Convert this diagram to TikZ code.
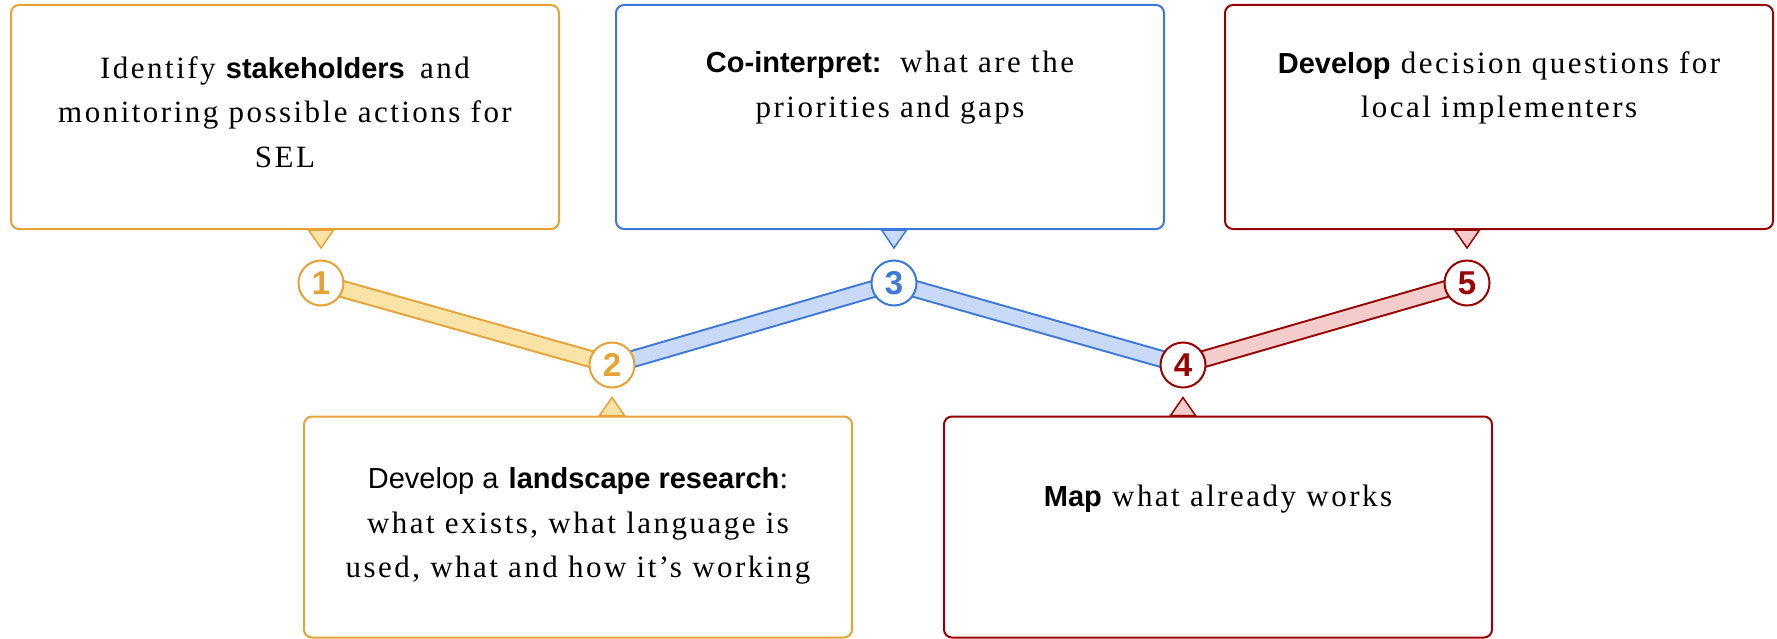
\documentclass[tikz,border=0pt]{standalone}
\usepackage{fontspec}
\setmainfont{Liberation Serif}[LetterSpace=8]
\newfontfamily\arial{Liberation Sans}
\usepackage{tikz}
\usetikzlibrary{positioning, calc, backgrounds}

\definecolor{orline}{HTML}{E6A237}
\definecolor{orfill}{HTML}{F9E3A7}
\definecolor{blline}{HTML}{3C78D8}
\definecolor{blfill}{HTML}{C9DAF8}
\definecolor{rdline}{HTML}{990000}
\definecolor{rdfill}{HTML}{F4CCCC}

\newcommand{\kw}[1]{{\arial\bfseries\fontsize{29}{44.5}\selectfont #1}}
\newcommand{\sans}[1]{{\arial\fontsize{29}{44.5}\selectfont #1}}

\begin{document}
\begin{tikzpicture}[x=1pt, y=-1pt,
    font=\fontsize{31}{44.5}\selectfont,
    box/.style={draw=#1, line width=2pt, rounded corners=8pt, fill=white, minimum width=548pt, inner sep=0pt},
    stepnum/.style={circle, draw=#1, line width=2pt, fill=white, text=#1, minimum size=45pt, inner sep=0pt, font=\arial\bfseries\fontsize{33}{33}\selectfont},
    band/.style 2 args={line width=2pt, draw=#1, double=#2, double distance=14pt},
    pointer/.style 2 args={draw=#1, fill=#2, line width=1.5pt},
    txt/.style={align=center, inner sep=0pt}]
    \useasboundingbox (0,0) rectangle (1777,639);

    % boxes
    \node[box=orline, minimum height=224pt] (b1) at (285,117) {};
    \node[box=blline, minimum height=224pt] (b3) at (890,117) {};
    \node[box=rdline, minimum height=224pt] (b5) at (1499,117) {};
    \node[box=orline, minimum height=221pt] (b2) at (578,527) {};
    \node[box=rdline, minimum height=221pt] (b4) at (1218,527) {};

    \node[txt, below=52pt of b1.north] (t1) {Identify \kw{stakeholders} \hspace{5pt}and\\monitoring possible actions for\\SEL};
    \node[txt, below=47pt of b3.north] (t3) {\kw{Co-interpret:} \hspace{5pt}what are the\\priorities and gaps};
    \node[txt, below=47pt of b5.north] (t5) {\kw{Develop} decision questions for\\local implementers};
    \node[txt, below=52pt of b2.north] (t2) {\sans{Develop a} \kw{landscape research}:\\what exists, what language is\\used, what and how it's working};
    \node[txt, below=69pt of b4.north] (t4) {\kw{Map} what already works};

    % steps
    \node[stepnum=orline] (c1) at (321,283) {1};
    \node[stepnum=orline] (c2) at (612,365) {2};
    \node[stepnum=blline] (c3) at (894,283) {3};
    \node[stepnum=rdline] (c4) at (1183,365) {4};
    \node[stepnum=rdline] (c5) at (1467,283) {5};

    \begin{scope}[on background layer]
        \draw[band={orline}{orfill}] (c1.center) -- (c2.center);
        \draw[band={blline}{blfill}] (c2.center) -- (c3.center);
        \draw[band={blline}{blfill}] (c3.center) -- (c4.center);
        \draw[band={rdline}{rdfill}] (c4.center) -- (c5.center);
    \end{scope}

    % pointers
    \draw[pointer={orline}{orfill}] ($(b1.south -| c1)+(-12.5,0)$) -- ++(25,0) -- ++(-12.5,18) -- cycle;
    \draw[pointer={blline}{blfill}] ($(b3.south -| c3)+(-12.5,0)$) -- ++(25,0) -- ++(-12.5,18) -- cycle;
    \draw[pointer={rdline}{rdfill}] ($(b5.south -| c5)+(-12.5,0)$) -- ++(25,0) -- ++(-12.5,18) -- cycle;
    \draw[pointer={orline}{orfill}] ($(b2.north -| c2)+(-12.5,0)$) -- ++(25,0) -- ++(-12.5,-18) -- cycle;
    \draw[pointer={rdline}{rdfill}] ($(b4.north -| c4)+(-12.5,0)$) -- ++(25,0) -- ++(-12.5,-18) -- cycle;
\end{tikzpicture}
\end{document}
